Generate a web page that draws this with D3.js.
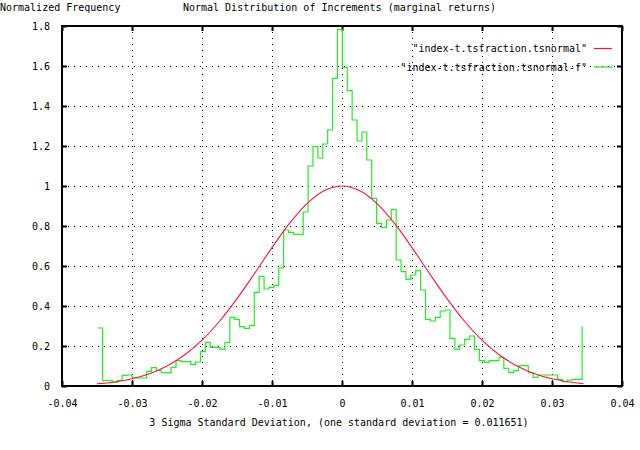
<!DOCTYPE html>
<html>
<head>
<meta charset="utf-8">
<script src="https://cdn.jsdelivr.net/npm/d3@7/dist/d3.min.js"></script>
<style>
  html, body { margin: 0; padding: 0; background: #fff; }
  svg { display: block; }
  text { font-family: "DejaVu Sans Mono", "Liberation Mono", monospace; font-size: 10px; fill: #000; }
</style>
</head>
<body>
<svg id="chart" width="640" height="450"></svg>
<script>
// ---- data ----
const xTicks = [-0.04, -0.03, -0.02, -0.01, 0, 0.01, 0.02, 0.03, 0.04];
const xTickLabels = ["-0.04", "-0.03", "-0.02", "-0.01", "0", "0.01", "0.02", "0.03", "0.04"];
const yTicks = [0, 0.2, 0.4, 0.6, 0.8, 1, 1.2, 1.4, 1.6, 1.8];
const yTickLabels = ["0", "0.2", "0.4", "0.6", "0.8", "1", "1.2", "1.4", "1.6", "1.8"];

// histogram (gnuplot "steps"): 100 equally spaced sample points
const histStart = -0.0349;
const histEnd = 0.0343;
const histValues = [
  0.29, 0.027, 0.027, 0.018, 0.028, 0.053, 0.055, 0.043, 0.040, 0.040,
  0.073, 0.092, 0.078, 0.067, 0.067, 0.093, 0.127, 0.122, 0.122, 0.108,
  0.120, 0.172, 0.218, 0.193, 0.193, 0.183, 0.218, 0.343, 0.333, 0.297,
  0.288, 0.302, 0.468, 0.548, 0.485, 0.493, 0.503, 0.590, 0.780, 0.768,
  0.758, 0.758, 0.870, 1.100, 1.197, 1.140, 1.210, 1.280, 1.538, 1.783,
  1.593, 1.477, 1.330, 1.225, 1.270, 1.130, 0.938, 0.813, 0.793, 0.830,
  0.883, 0.630, 0.572, 0.533, 0.555, 0.577, 0.480, 0.333, 0.325, 0.343,
  0.375, 0.380, 0.238, 0.183, 0.205, 0.233, 0.250, 0.183, 0.127, 0.118,
  0.127, 0.127, 0.143, 0.088, 0.067, 0.077, 0.102, 0.102, 0.067, 0.043,
  0.055, 0.055, 0.055, 0.055, 0.033, 0.022, 0.030, 0.033, 0.033, 0.297
];

// fitted normal curve, read at these x positions
const curveX = [-0.035, -0.0325, -0.03, -0.0275, -0.025, -0.0225, -0.02, -0.0175, -0.015, -0.0125,
  -0.01, -0.0075, -0.005, -0.0025, 0, 0.0025, 0.005, 0.0075, 0.01, 0.0125, 0.015, 0.0175,
  0.02, 0.0225, 0.025, 0.0275, 0.03, 0.0325, 0.0345];
const curveY = [0.011, 0.0204, 0.0363, 0.0617, 0.1001, 0.1549, 0.2292, 0.3237, 0.4366, 0.5624,
  0.6919, 0.8129, 0.912, 0.9772, 1.0, 0.9772, 0.912, 0.8129, 0.6919, 0.5624, 0.4366, 0.3237,
  0.2292, 0.1549, 0.1001, 0.0617, 0.0363, 0.0204, 0.0125];

const seriesNames = ["\"index-t.tsfraction.tsnormal\"", "\"index-t.tsfraction.tsnormal-f\""];
const title = "Normal Distribution of Increments (marginal returns)";
const yTitle = "Normalized Frequency";
const xTitle = "3 Sigma Standard Deviation, (one standard deviation = 0.011651)";

// ---- layout ----
const L = 62, R = 622, T = 26, B = 386;
const red = "#ff1048", green = "#22ee22";

const svg = d3.select("#chart");
const x = d3.scaleLinear().domain([-0.04, 0.04]).range([L, R]);
const y = d3.scaleLinear().domain([0, 1.8]).range([B, T]);

// grid (dotted)
const grid = svg.append("g").attr("stroke", "#000").attr("stroke-width", 1)
  .attr("stroke-dasharray", "1,5");
yTicks.slice(1, -1).forEach(v => {
  grid.append("line").attr("x1", L).attr("x2", R)
    .attr("y1", Math.round(y(v)) + 0.5).attr("y2", Math.round(y(v)) + 0.5);
});
xTicks.slice(1, -1).forEach(v => {
  grid.append("line").attr("y1", T).attr("y2", B)
    .attr("x1", Math.round(x(v)) + 0.5).attr("x2", Math.round(x(v)) + 0.5);
});

// axes via d3 (ticks inward, mirrored)
const tl = 5;
const axB = d3.axisBottom(x).tickValues(xTicks).tickSizeInner(-tl).tickSizeOuter(0)
  .tickFormat((d, i) => xTickLabels[i]).tickPadding(14);
const axT = d3.axisTop(x).tickValues(xTicks).tickSizeInner(-tl).tickSizeOuter(0).tickFormat("");
const axL = d3.axisLeft(y).tickValues(yTicks).tickSizeInner(-tl).tickSizeOuter(0)
  .tickFormat((d, i) => yTickLabels[i]).tickPadding(12);
const axR = d3.axisRight(y).tickValues(yTicks).tickSizeInner(-tl).tickSizeOuter(0).tickFormat("");

function styleAxis(g) {
  g.select(".domain").remove();
  g.selectAll(".tick line").attr("stroke", "#000").attr("stroke-width", 2);
  g.selectAll(".tick text").attr("font-family", "DejaVu Sans Mono, monospace")
    .attr("font-size", 10).attr("fill", "#000");
}
svg.append("g").attr("transform", `translate(0,${B})`).call(axB).call(styleAxis);
svg.append("g").attr("transform", `translate(0,${T})`).call(axT).call(styleAxis);
svg.append("g").attr("transform", `translate(${L},0)`).call(axL).call(styleAxis);
svg.append("g").attr("transform", `translate(${R},0)`).call(axR).call(styleAxis);

// histogram steps
const idx = d3.scaleLinear().domain([0, histValues.length - 1]).range([histStart, histEnd]);
const histPts = histValues.map((v, i) => [idx(i), v]);
svg.append("path").datum(histPts)
  .attr("fill", "none").attr("stroke", green).attr("stroke-width", 1.2)
  .attr("d", d3.line().x(d => x(d[0])).y(d => y(d[1])).curve(d3.curveStepAfter));

// normal curve
svg.append("path").datum(curveX.map((v, i) => [v, curveY[i]]))
  .attr("fill", "none").attr("stroke", red).attr("stroke-width", 1.1)
  .attr("d", d3.line().x(d => x(d[0])).y(d => y(d[1])).curve(d3.curveCatmullRom));

// frame
svg.append("rect").attr("x", L).attr("y", T).attr("width", R - L).attr("height", B - T)
  .attr("fill", "none").attr("stroke", "#000").attr("stroke-width", 2);

// legend
const legRows = [{ name: seriesNames[0], color: red, y: 48.5 }, { name: seriesNames[1], color: green, y: 67 }];
legRows.forEach(r => {
  svg.append("text").attr("x", 587).attr("y", r.y + 3.5).attr("text-anchor", "end").text(r.name);
  svg.append("line").attr("x1", 594).attr("x2", 612).attr("y1", r.y).attr("y2", r.y)
    .attr("stroke", r.color).attr("stroke-width", 1.2);
});

// titles
svg.append("text").attr("x", 0).attr("y", 11).text(yTitle);
svg.append("text").attr("x", 339.5).attr("y", 11).attr("text-anchor", "middle").text(title);
svg.append("text").attr("x", 339).attr("y", 426).attr("text-anchor", "middle").text(xTitle);
</script>
</body>
</html>
